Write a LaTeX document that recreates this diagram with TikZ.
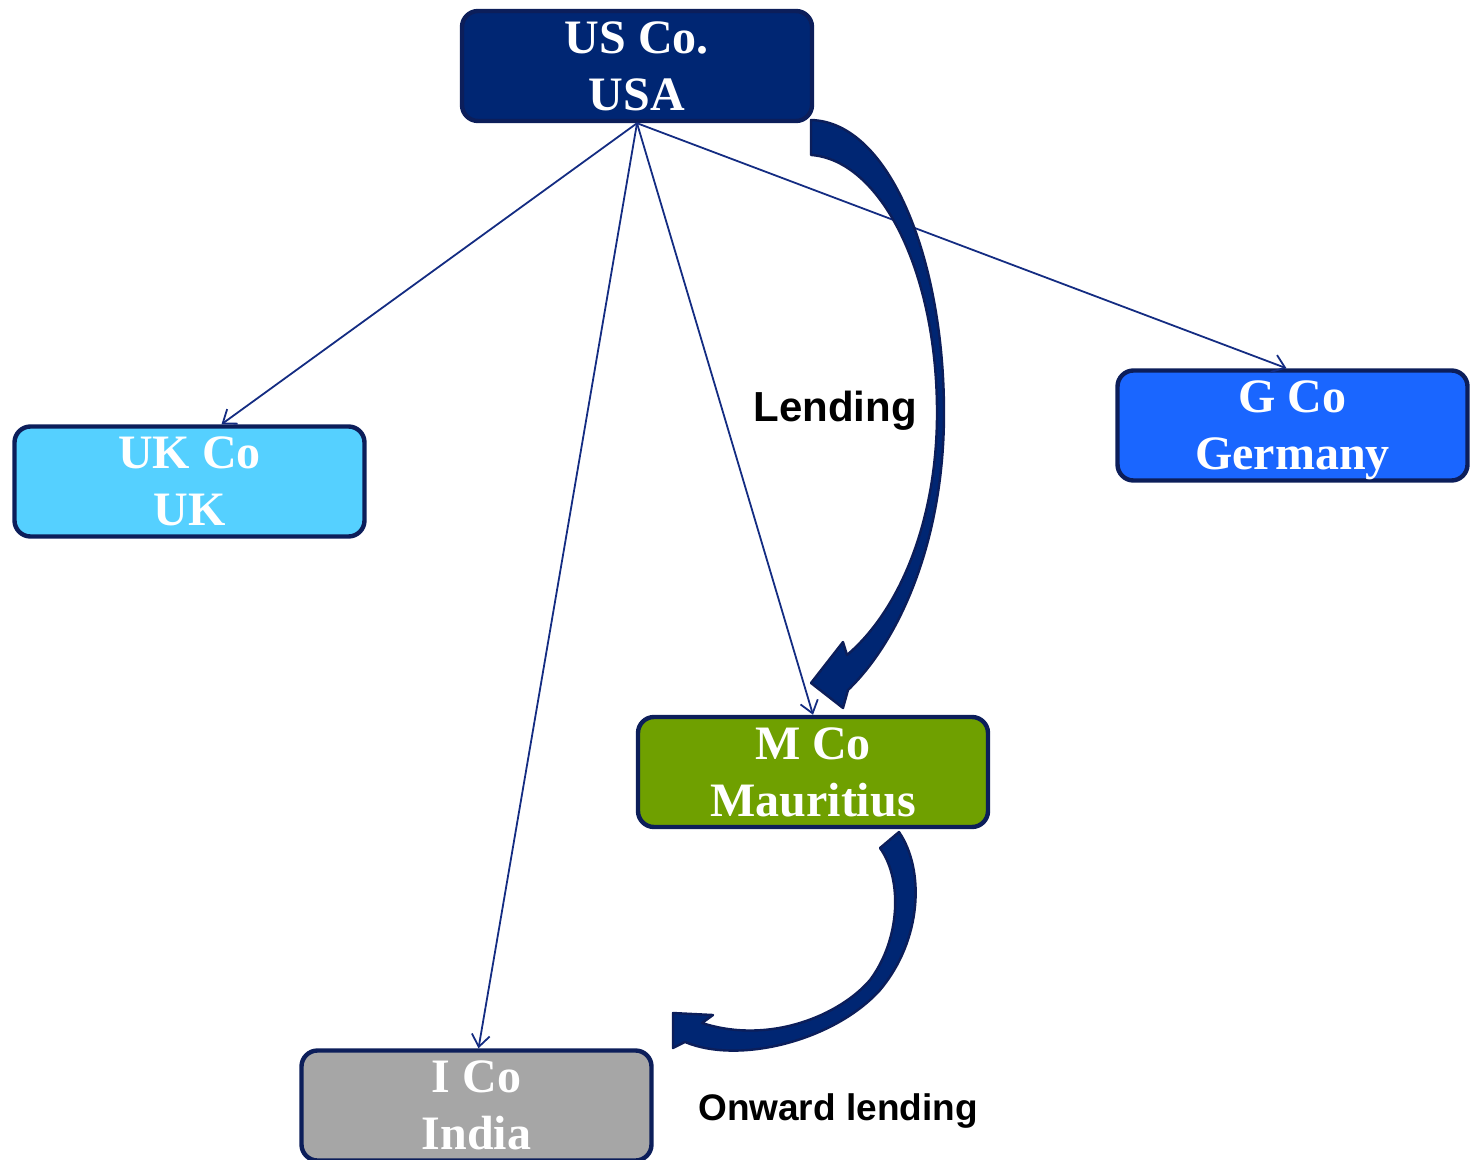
\documentclass[tikz,border=0pt]{standalone}
\usepackage{fontspec}
\setmainfont{Liberation Serif}
\newfontfamily\labelfont{Liberation Sans}
\usetikzlibrary{arrows.meta,calc}

\definecolor{navyfill}{RGB}{0,38,115}
\definecolor{navyline}{RGB}{12,30,90}
\definecolor{linkblue}{RGB}{20,44,130}
\definecolor{ukfill}{RGB}{85,208,255}
\definecolor{gfill}{RGB}{26,102,255}
\definecolor{mfill}{RGB}{111,160,0}
\definecolor{ifill}{RGB}{166,166,166}

\begin{document}
\begin{tikzpicture}[x=0.5pt,y=-0.5pt,
  entity/.style={draw=navyline, line width=2.2pt, rounded corners=8pt,
    minimum width=175pt, minimum height=55pt, inner sep=0pt,
    text=white, align=center, text depth=0pt,
    font=\bfseries\fontsize{24}{28.5}\selectfont},
  link/.style={draw=linkblue, line width=0.9pt,
    -{Straight Barb[length=6pt,width=9pt,line width=0.9pt]}},
  bigarrow/.style={fill=navyfill, draw=navyline, line width=1.2pt, line join=round},
  caption/.style={font=\labelfont\bfseries\fontsize{21}{24}\selectfont, anchor=base}]

\useasboundingbox (0,0) rectangle (1471,1160);
\clip (0,0) rectangle (1471,1160);

% companies
\node[entity, fill=navyfill] (us) at (637,66)    {US Co.\\USA};
\node[entity, fill=ukfill]   (uk) at (189.5,481.5) {UK Co\\UK};
\node[entity, fill=gfill]    (g)  at (1292.5,425.5) {G Co\\Germany};
\node[entity, fill=mfill]    (m)  at (813,772)   {M Co\\Mauritius};
\node[entity, fill=ifill]    (i)  at (476.5,1105.5) {I Co\\India};

% ownership links
\draw[link] (us.south) -- ([xshift=16pt]uk.north);
\draw[link] (us.south) -- ([xshift=1pt]i.north);
\draw[link] (us.south) -- (m.north);
\draw[link] (us.south) -- ([xshift=-3pt]g.north);

% lending from US Co to M Co
\filldraw[bigarrow]
  (811,120) .. controls (890,122) and (944,260) .. (944,413)
  .. controls (944,540) and (900,640) .. (848,690)
  -- (843,708) -- (811,683) -- (843,642) -- (847,655)
  .. controls (900,610) and (937,520) .. (937,413)
  .. controls (937,270) and (880,160) .. (811,155) -- cycle;
\node[caption] (lend) at (835,421) {Lending};

% onward lending from M Co to I Co
\filldraw[bigarrow]
  (880,848) -- (899,832)
  .. controls (925,870) and (922,940) .. (880,990)
  .. controls (835,1040) and (740,1065) .. (685,1042)
  -- (673,1048) -- (673,1013) -- (713,1015) -- (702,1023)
  .. controls (770,1045) and (840,1015) .. (870,980)
  .. controls (900,940) and (903,880) .. (880,848) -- cycle;
\node[caption, font=\labelfont\bfseries\fontsize{18.5}{22}\selectfont] (onward) at (838,1120) {Onward lending};

\end{tikzpicture}
\end{document}
